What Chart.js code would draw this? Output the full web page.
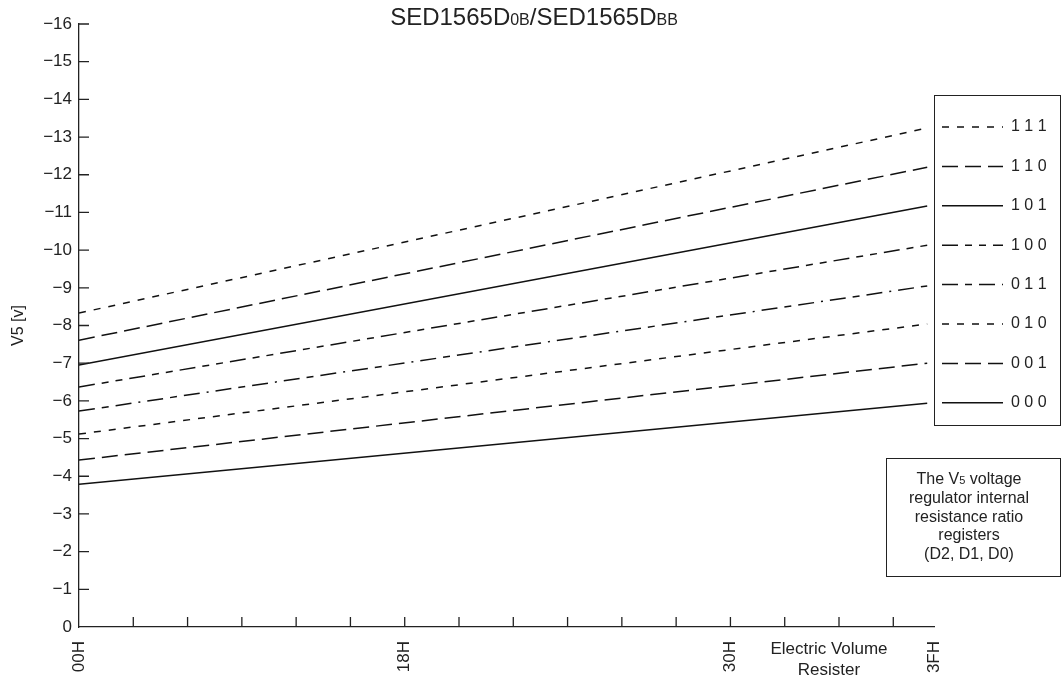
<!DOCTYPE html>
<html lang="en">
<head>
<meta charset="UTF-8">
<title>SED1565D0B/SED1565DBB V5 voltage</title>
<style>
  html, body { margin: 0; padding: 0; background: #fff; }
</style>
<script src="https://cdn.jsdelivr.net/npm/chart.js"></script>
</head>
<body>
<canvas id="v5Chart" width="1062" height="683"></canvas>

<script>
// register settings (D2, D1, D0), top line first
var codes = ['1 1 1', '1 1 0', '1 0 1', '1 0 0', '0 1 1', '0 1 0', '0 0 1', '0 0 0'];
// V5 read at 00H and at the right end of each line
var v5At00H = [-8.33, -7.61, -6.95, -6.37, -5.73, -5.12, -4.43, -3.79];
var v5AtEnd = [-13.24, -12.20, -11.17, -10.13, -9.05, -8.04, -7.00, -5.94];
var lineStartX = 0;
var lineEndX = 62.5;
// x axis: register value, labelled ticks
var xTickValues = [0, 24, 48, 63];
var xTickNames = ['00H', '18H', '30H', '3FH'];
var xMinorStep = 4;

// line styles, same order as codes
var dashes = [[7, 8], [16, 7], [], [16, 7, 7, 7, 7, 7], [16, 7, 7, 7, 16, 7, 2, 7], [7, 8], [16, 7], []];

var FONT = '"Liberation Sans", Arial, sans-serif';
var INK = '#222';

var datasets = codes.map(function (c, i) {
  return {
    label: c,
    data: [{ x: lineStartX, y: v5At00H[i] }, { x: lineEndX, y: v5AtEnd[i] }],
    borderColor: '#111',
    borderWidth: 1.5,
    borderDash: dashes[i],
    pointRadius: 0,
    fill: false,
    tension: 0
  };
});

// draw a row of text pieces with different sizes, centred on cx
function drawRuns(ctx, runs, cx, y) {
  var total = 0;
  runs.forEach(function (r) {
    ctx.font = r[1] + 'px ' + FONT;
    r.w = ctx.measureText(r[0]).width;
    total += r.w;
  });
  var x = cx - total / 2;
  ctx.textAlign = 'left';
  runs.forEach(function (r) {
    ctx.font = r[1] + 'px ' + FONT;
    ctx.fillText(r[0], x, y);
    x += r.w;
  });
}

var decor = {
  id: 'decor',
  afterDraw: function (chart) {
    var ctx = chart.ctx, area = chart.chartArea;
    var xs = chart.scales.x, ys = chart.scales.y;
    ctx.save();
    ctx.strokeStyle = INK;
    ctx.fillStyle = INK;
    ctx.lineWidth = 1.3;

    // tick marks point inwards
    ctx.beginPath();
    ys.ticks.forEach(function (t) {
      if (t.value === 0) return;
      var y = ys.getPixelForValue(t.value);
      ctx.moveTo(area.left, y);
      ctx.lineTo(area.left + 10, y);
    });
    xs.ticks.forEach(function (t) {
      if (t.value === 0 || t.value === 63) return;
      var x = xs.getPixelForValue(t.value);
      ctx.moveTo(x, area.bottom);
      ctx.lineTo(x, area.bottom - 10);
    });
    ctx.stroke();

    // title
    ctx.textBaseline = 'alphabetic';
    drawRuns(ctx, [['SED1565D', 24], ['0B', 16], ['/SED1565D', 24], ['BB', 16]], 534, 25);

    // x axis caption
    ctx.font = '17px ' + FONT;
    ctx.textAlign = 'center';
    ctx.textBaseline = 'middle';
    ctx.fillText('Electric Volume', 829, 649);
    ctx.fillText('Resister', 829, 670);

    // legend box
    ctx.lineWidth = 1;
    ctx.strokeRect(934.5, 95.5, 126, 330);
    chart.data.datasets.forEach(function (ds, i) {
      var y = 127 + i * 39.4;
      ctx.save();
      ctx.lineWidth = 1.5;
      ctx.strokeStyle = '#111';
      ctx.setLineDash(ds.borderDash);
      ctx.beginPath();
      ctx.moveTo(942, y);
      ctx.lineTo(1003, y);
      ctx.stroke();
      ctx.restore();
      ctx.font = '16px ' + FONT;
      ctx.textAlign = 'left';
      ctx.textBaseline = 'middle';
      ctx.fillText(ds.label, 1011, y);
    });

    // note box
    ctx.strokeRect(886.5, 458.5, 174, 118);
    ctx.textBaseline = 'alphabetic';
    drawRuns(ctx, [['The V', 16], ['5', 11], [' voltage', 16]], 969, 484);
    ctx.font = '16px ' + FONT;
    ctx.textAlign = 'center';
    ctx.fillText('regulator internal', 969, 503);
    ctx.fillText('resistance ratio', 969, 522);
    ctx.fillText('registers', 969, 540);
    ctx.fillText('(D2, D1, D0)', 969, 559);
    ctx.restore();
  }
};

var v5Chart = new Chart('v5Chart', {
  type: 'line',
  data: { datasets: datasets },
  options: {
    responsive: false,
    animation: false,
    layout: { padding: { top: 24, right: 128, bottom: 0, left: 0 } },
    plugins: {
      legend: { display: false },
      tooltip: { enabled: false }
    },
    scales: {
      x: {
        type: 'linear',
        min: 0,
        max: 63,
        afterBuildTicks: function (scale) {
          var t = [];
          for (var v = 0; v <= 60; v += xMinorStep) t.push({ value: v });
          t.push({ value: 63 });
          scale.ticks = t;
        },
        afterFit: function (scale) { scale.height = 56; },
        grid: { drawOnChartArea: false, drawTicks: false },
        border: { display: true, color: INK, width: 1.3 },
        ticks: {
          autoSkip: false,
          minRotation: 90,
          maxRotation: 90,
          padding: 14,
          color: INK,
          font: { family: FONT, size: 17 },
          callback: function (value) {
            var idx = xTickValues.indexOf(value);
            return idx >= 0 ? xTickNames[idx] : '';
          }
        }
      },
      y: {
        type: 'linear',
        min: -16,
        max: 0,
        reverse: true,
        afterFit: function (scale) { scale.width = 79; },
        grid: { drawOnChartArea: false, drawTicks: false },
        border: { display: true, color: INK, width: 1.3 },
        ticks: {
          stepSize: 1,
          padding: 7,
          color: INK,
          font: { family: FONT, size: 17 },
          callback: function (v) { return v < 0 ? '\u2212' + (-v) : String(v); }
        },
        title: {
          display: true,
          text: 'V5 [v]',
          color: INK,
          font: { family: FONT, size: 16 },
          padding: { top: 9, bottom: 0 }
        }
      }
    }
  },
  plugins: [decor]
});
</script>
</body>
</html>
